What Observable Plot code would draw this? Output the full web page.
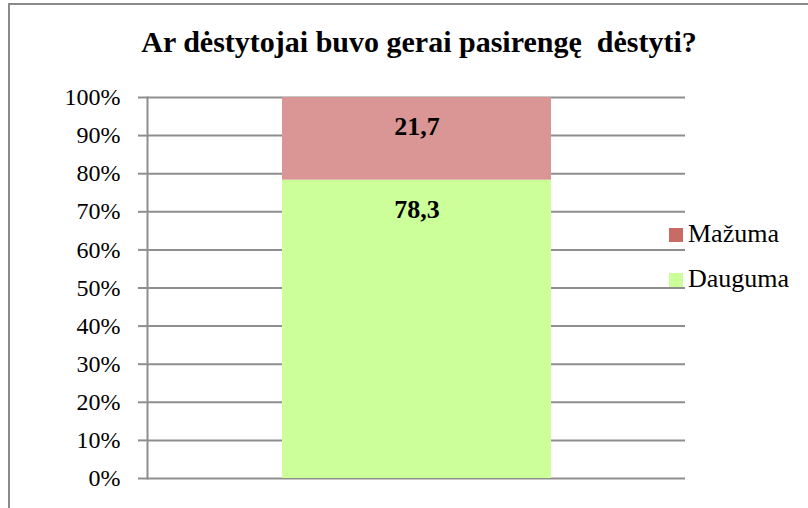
<!DOCTYPE html>
<html>
<head>
<meta charset="utf-8">
<script src="https://cdn.jsdelivr.net/npm/d3@7"></script>
<script src="https://cdn.jsdelivr.net/npm/@observablehq/plot@0.6"></script>
<style>
  html, body { margin: 0; padding: 0; background: #fff; }
  #wrap { position: relative; width: 808px; height: 508px; overflow: hidden; font-family: "Liberation Serif", "Times New Roman", serif; }
  #frame { position: absolute; left: 8px; top: 3px; width: 900px; height: 600px; border-left: 2px solid #8a8a8a; border-top: 2px solid #8a8a8a; box-sizing: border-box; }
  #title { position: absolute; left: 0; width: 838px; top: 26px; text-align: center; font-weight: bold; font-size: 30px; line-height: 32px; color: #000; white-space: pre; }
  #chart { position: absolute; left: 0; top: 0; }
  .leg { position: absolute; left: 669px; font-size: 26px; line-height: 28px; color: #000; white-space: nowrap; }
  .sw { display: inline-block; width: 14px; height: 14px; margin-right: 5px; vertical-align: 0px; }
</style>
</head>
<body>
<div id="wrap">
  <div id="frame"></div>
  <div id="chart"></div>
  <div id="title">Ar dėstytojai buvo gerai pasirengę  dėstyti?</div>
  <div id="legend"></div>
</div>
<script>
const series = ["Dauguma", "Mažuma"];
const values = [78.3, 21.7];
const barColors = ["#CCFF99", "#D99694"];
const legendColors = ["#CCFF99", "#C86B66"];
const legendOrder = ["Mažuma", "Dauguma"];
const yTicks = [0, 10, 20, 30, 40, 50, 60, 70, 80, 90, 100];

const data = series.map((s, i) => ({ cat: "q", series: s, value: values[i] }));
let acc = 0;
const labels = data.map(d => { acc += d.value; return { cat: d.cat, top: acc, text: d3.format(".1f")(d.value).replace(".", ",") }; });

const grid = "#8e8e8e";
const chart = Plot.plot({
  width: 808,
  height: 508,
  marginTop: 97,
  marginBottom: 30,
  marginLeft: 147,
  marginRight: 123,
  style: { fontFamily: "'Liberation Serif', 'Times New Roman', serif", background: "transparent", overflow: "visible" },
  x: { domain: ["q"], padding: 1/3, axis: null },
  y: { domain: [0, 100] },
  color: { domain: series, range: barColors },
  marks: [
    Plot.gridY(yTicks, { stroke: grid, strokeOpacity: 1, strokeWidth: 2 }),
    Plot.barY(data, { x: "cat", y: "value", fill: "series", order: series }),
    Plot.axisY(yTicks, { tickSize: 9, tickPadding: 18, stroke: grid, strokeWidth: 2, fontSize: 24, fill: "#000", tickFormat: d => d + "%", label: null }),
    Plot.frame({ anchor: "left", stroke: grid, strokeWidth: 2 }),
    Plot.text(labels, { x: "cat", y: "top", text: "text", lineAnchor: "top", dy: 19, fontSize: 26, fontWeight: "bold", fill: "#000" })
  ]
});
document.getElementById("chart").appendChild(chart);

const leg = document.getElementById("legend");
legendOrder.forEach((name, i) => {
  const idx = series.indexOf(name);
  const row = document.createElement("div");
  row.className = "leg";
  row.style.top = (220 + i * 45) + "px";
  row.innerHTML = `<span class="sw" style="background:${legendColors[idx]}"></span>${name}`;
  leg.appendChild(row);
});
</script>
</body>
</html>
